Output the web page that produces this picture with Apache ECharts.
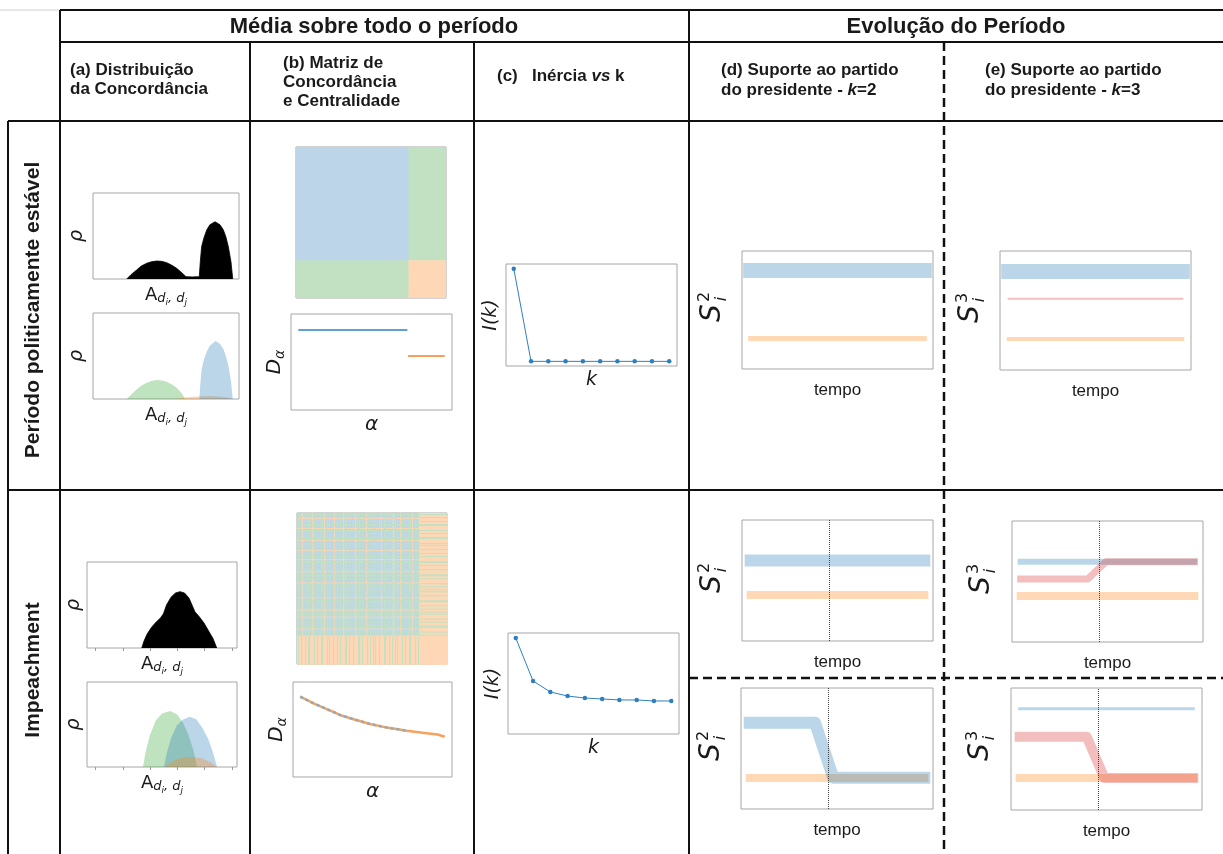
<!DOCTYPE html>
<html>
<head>
<meta charset="utf-8">
<title>Média sobre todo o período / Evolução do Período</title>
<script src="https://cdn.jsdelivr.net/npm/echarts@6/dist/echarts.min.js"></script>
<style>
  html, body { margin: 0; padding: 0; background: #fff; }
  #chart { width: 1223px; height: 854px; }
</style>
</head>
<body>
<div id="chart"></div>
<script>
// ---------- (a) distribuição da concordância (x em fração do eixo, rho relativo) ----------
const aStableX = [0.231, 0.26, 0.299, 0.33, 0.368, 0.40, 0.436, 0.47, 0.505, 0.54, 0.573, 0.61, 0.637, 0.68, 0.728, 0.735, 0.744, 0.76, 0.779, 0.80, 0.836, 0.87, 0.893, 0.91, 0.927, 0.945, 0.957]
const aStableTotal = [0, 0.05, 0.105, 0.15, 0.183, 0.20, 0.209, 0.205, 0.19, 0.16, 0.124, 0.07, 0.027, 0.024, 0.027, 0.2, 0.376, 0.48, 0.57, 0.63, 0.666, 0.63, 0.57, 0.49, 0.376, 0.2, 0]
const aStableGreenX = [0.231, 0.26, 0.299, 0.33, 0.368, 0.40, 0.436, 0.47, 0.505, 0.54, 0.573, 0.61, 0.63]
const aStableGreen = [0, 0.05, 0.11, 0.155, 0.19, 0.21, 0.22, 0.215, 0.2, 0.17, 0.13, 0.06, 0]
const aStableBlueX = [0.728, 0.735, 0.744, 0.76, 0.779, 0.80, 0.84, 0.87, 0.893, 0.91, 0.927, 0.945, 0.957]
const aStableBlue = [0, 0.17, 0.35, 0.46, 0.55, 0.62, 0.674, 0.64, 0.58, 0.5, 0.39, 0.21, 0]
const aStableOrangeX = [0.573, 0.62, 0.68, 0.74, 0.80, 0.86, 0.91, 0.95]
const aStableOrange = [0, 0.015, 0.025, 0.032, 0.035, 0.03, 0.02, 0]

const aImpX = [0.365, 0.38, 0.40, 0.43, 0.46, 0.49, 0.51, 0.53, 0.56, 0.59, 0.62, 0.65, 0.68, 0.70, 0.72, 0.75, 0.78, 0.81, 0.84, 0.865]
const aImpTotal = [0, 0.08, 0.16, 0.24, 0.3, 0.35, 0.4, 0.5, 0.59, 0.64, 0.655, 0.64, 0.58, 0.5, 0.42, 0.36, 0.29, 0.2, 0.11, 0]
const aImpGreenX = [0.373, 0.39, 0.42, 0.46, 0.50, 0.553, 0.60, 0.64, 0.68, 0.71, 0.733]
const aImpGreen = [0, 0.17, 0.38, 0.55, 0.63, 0.66, 0.62, 0.52, 0.36, 0.19, 0]
const aImpBlueX = [0.513, 0.53, 0.56, 0.60, 0.64, 0.687, 0.73, 0.77, 0.81, 0.84, 0.867]
const aImpBlue = [0, 0.15, 0.34, 0.49, 0.56, 0.59, 0.56, 0.46, 0.32, 0.17, 0]
const aImpOrangeX = [0.52, 0.56, 0.62, 0.69, 0.76, 0.82, 0.867]
const aImpOrange = [0, 0.06, 0.105, 0.118, 0.105, 0.06, 0]
const aImpTicks = [0.053, 0.24, 0.42, 0.6, 0.78, 0.967]

// ---------- (b) matriz de concordância: 0 azul, 1 laranja, 2 verde ----------
const concStable = [
  [0, 0, 0, 2],
  [0, 0, 0, 2],
  [0, 0, 0, 2],
  [2, 2, 2, 1]
]
// tipo de cada parlamentar no impeachment (B azul, G verde, O laranja)
const nodeTypesImp =
  'BGBBGOBBGBBGGBBOBGBB' + 'GBBBGGBOBBGBGBBBGOBB' + 'GBBGBBOBGGBBGBBBGBOB' +
  'BGGBBGBBBOGBBGBBGBGB' + 'BBGBOBBGGBBBGBBGOBGB' + 'GBBOBGBBGBBBGGBOBBGB' + 'BGO' +
  'OOOOOOOOOO' + 'OOOOOOOOOO' + 'OOOOOOO'

// centralidade D_alpha
const dAlphaStableBlue = [[0, 0.833], [0.745, 0.833]]
const dAlphaStableOrange = [[0.75, 0.5625], [1, 0.5625]]
const dAlphaImpX = [0, 0.1, 0.2, 0.275, 0.38, 0.483, 0.6, 0.737, 0.875, 0.95, 1.0]
const dAlphaImpY = [0.845, 0.77, 0.705, 0.653, 0.603, 0.558, 0.52, 0.487, 0.46, 0.447, 0.424]

// ---------- (c) inércia vs k ----------
const kValues = [1, 2, 3, 4, 5, 6, 7, 8, 9, 10]
const inertiaStable = [1, 0, 0, 0, 0, 0, 0, 0, 0, 0]
const inertiaImp = [0.95, 0.525, 0.416, 0.376, 0.356, 0.347, 0.337, 0.337, 0.327, 0.327]

// ---------- (d)/(e) suporte ao partido do presidente ----------
const eventTime = 0.45
const s2StableBlue = [[0, 0.835], [1, 0.835]]
const s2StableOrange = [[0, 0.258], [1, 0.258]]
const s3StableBlue = [[0, 0.828], [1, 0.828]]
const s3StableRed = [[0, 0.599], [1, 0.599]]
const s3StableOrange = [[0, 0.261], [1, 0.261]]
const s2ImpABlue = [[0, 0.666], [1, 0.666]]
const s2ImpAOrange = [[0, 0.381], [1, 0.381]]
const s3ImpABlue = [[0, 0.664], [1, 0.664]]
const s3ImpARed = [[0, 0.521], [0.386, 0.521], [0.492, 0.664], [1, 0.664]]
const s3ImpAOrange = [[0, 0.38], [1, 0.38]]
const s2ImpBBlue = [[0, 0.713], [0.374, 0.713], [0.478, 0.259], [1, 0.259]]
const s2ImpBOrange = [[0, 0.257], [1, 0.257]]
const s3ImpBBlue = [[0, 0.829], [1, 0.829]]
const s3ImpBRed = [[0, 0.6], [0.386, 0.6], [0.488, 0.263], [1, 0.263]]
const s3ImpBOrange = [[0, 0.263], [1, 0.263]]

// ---------- estilo ----------
const MATH_FONT = 'DejaVu Sans'
const TEXT_FONT = 'Liberation Sans'
const TXT = '#1a1a1a'
const BLUE_A = 'rgba(31,119,180,0.3)'
const ORANGE_A = 'rgba(255,127,14,0.3)'
const GREEN_A = 'rgba(44,160,44,0.3)'
const RED_A = 'rgba(214,39,40,0.3)'
const LINE_BLUE = '#2f7fbf'
const HEAT_COLORS = ['#bcd5e8', '#fed8b6', '#c2e1c2']

const chart = echarts.init(document.getElementById('chart'))

const baseAxis = {
  type: 'value',
  axisLine: { show: false },
  axisTick: { show: false },
  axisLabel: { show: false },
  splitLine: { show: false }
}
const grids = []
const xAxes = []
const yAxes = []
const series = []

function panel(rect, xOpt, yOpt) {
  const gi = grids.length
  grids.push(Object.assign({ show: true, borderColor: '#a6a6a6', borderWidth: 1 }, rect))
  xAxes.push(Object.assign({ gridIndex: gi }, baseAxis, xOpt))
  yAxes.push(Object.assign({ gridIndex: gi }, baseAxis, yOpt))
  return gi
}

function mathStyle(size, italic, extra) {
  return Object.assign({ fontFamily: MATH_FONT, fontSize: size, fontStyle: italic ? 'italic' : 'normal', color: TXT }, extra || {})
}
function pairs(xs, ys) {
  return xs.map((x, i) => [x, ys[i]])
}
function area(gi, data, color) {
  return {
    type: 'line', xAxisIndex: gi, yAxisIndex: gi, data, symbol: 'none', silent: true,
    lineStyle: { width: 0 }, areaStyle: { color, opacity: 1 }
  }
}
function band(gi, data, color, width) {
  return {
    type: 'line', xAxisIndex: gi, yAxisIndex: gi, data, symbol: 'none', silent: true,
    lineStyle: { color, width, cap: 'square', join: 'round' }
  }
}
function eventLine() {
  return {
    silent: true, symbol: ['none', 'none'], label: { show: false },
    lineStyle: { type: 'dotted', color: '#444', width: 1 },
    data: [{ xAxis: eventTime }]
  }
}
// matriz desenhada célula a célula, com leve sobreposição para não deixar frestas
function heatSeries(gi, data) {
  return {
    type: 'custom', xAxisIndex: gi, yAxisIndex: gi, data, silent: true, clip: true,
    renderItem: (params, api) => {
      const c = api.coord([api.value(0), api.value(1)])
      const s = api.size([1, 1])
      return {
        type: 'rect',
        shape: { x: c[0] - s[0] / 2, y: c[1] - s[1] / 2, width: s[0] + 0.8, height: s[1] + 0.8 },
        style: { fill: HEAT_COLORS[api.value(2)] }
      }
    }
  }
}

// nomes dos eixos
function rhoName(gap) {
  return { name: 'ρ', nameLocation: 'middle', nameGap: gap, nameTextStyle: mathStyle(19, true) }
}
const adjName = {
  name: '{a|A}{s|d}{t|i}{s|, d}{t|j}', nameLocation: 'middle', nameGap: 4,
  nameTextStyle: {
    rich: {
      a: mathStyle(18, false),
      s: mathStyle(13, true, { padding: [8, 0, 0, 0] }),
      t: mathStyle(9, true, { padding: [15, 0, 0, 0] })
    }
  }
}
const dAlphaName = {
  name: '{d|D}{s|α}', nameLocation: 'middle', nameGap: 4,
  nameTextStyle: { rich: { d: mathStyle(20, true), s: mathStyle(14, true, { padding: [10, 0, 0, 0] }) } }
}
const alphaName = { name: 'α', nameLocation: 'middle', nameGap: 5, nameTextStyle: mathStyle(20, true) }
const ikName = { name: 'I(k)', nameLocation: 'middle', nameGap: 5, nameTextStyle: mathStyle(19, true) }
const kName = { name: 'k', nameLocation: 'middle', nameGap: 5, nameTextStyle: mathStyle(19, true) }
const tempoName = {
  name: 'tempo', nameLocation: 'middle', nameGap: 13,
  nameTextStyle: { fontFamily: TEXT_FONT, fontSize: 17, color: TXT }
}
const unit = { min: 0, max: 1 }
const padded = { min: -0.05, max: 1.05 }

function catAxis(n, extra) {
  return Object.assign({ type: 'category', data: Array.from({ length: n }, (_, i) => i) }, extra || {})
}

// ---------- painéis: período estável ----------
const gA1 = panel({ left: 93, top: 193, width: 146, height: 86 }, Object.assign({}, unit, adjName), Object.assign({}, unit, rhoName(6)))
series.push(Object.assign(area(gA1, pairs(aStableX, aStableTotal), '#000'), { lineStyle: { width: 0.8, color: '#000' } }))

const gA2 = panel({ left: 93, top: 313, width: 146, height: 86 }, Object.assign({}, unit, adjName), Object.assign({}, unit, rhoName(6)))
series.push(area(gA2, pairs(aStableGreenX, aStableGreen), GREEN_A))
series.push(area(gA2, pairs(aStableOrangeX, aStableOrange), ORANGE_A))
series.push(area(gA2, pairs(aStableBlueX, aStableBlue), BLUE_A))

const gB1 = panel({ left: 296, top: 147, width: 150, height: 151 }, catAxis(concStable.length), catAxis(concStable.length, { inverse: true }))
const heatStable = []
concStable.forEach((row, i) => row.forEach((v, j) => heatStable.push([j, i, v])))
series.push(heatSeries(gB1, heatStable))

const gB2 = panel({ left: 291, top: 314, width: 161, height: 96 }, Object.assign({}, padded, alphaName), Object.assign({}, unit, dAlphaName))
series.push({ type: 'line', xAxisIndex: gB2, yAxisIndex: gB2, data: dAlphaStableBlue, symbol: 'none', silent: true, lineStyle: { color: '#62a0d3', width: 2 } })
series.push({ type: 'line', xAxisIndex: gB2, yAxisIndex: gB2, data: dAlphaStableOrange, symbol: 'none', silent: true, lineStyle: { color: '#f8a05a', width: 2 } })

const gC1 = panel({ left: 506, top: 264, width: 171, height: 102 }, Object.assign({ min: 0.55, max: 10.45 }, kName), Object.assign({}, padded, ikName))
series.push({
  type: 'line', xAxisIndex: gC1, yAxisIndex: gC1, data: pairs(kValues, inertiaStable), silent: true,
  symbol: 'circle', symbolSize: 4.5, itemStyle: { color: LINE_BLUE }, lineStyle: { color: LINE_BLUE, width: 1 }
})

const gD1 = panel({ left: 742, top: 251, width: 191, height: 118 }, Object.assign({}, padded, tempoName), unit)
series.push(band(gD1, s2StableBlue, BLUE_A, 15))
series.push(band(gD1, s2StableOrange, ORANGE_A, 5))

const gE1 = panel({ left: 1000, top: 251, width: 191, height: 119 }, Object.assign({}, padded, tempoName), unit)
series.push(band(gE1, s3StableBlue, BLUE_A, 15))
series.push(band(gE1, s3StableRed, RED_A, 2))
series.push(band(gE1, s3StableOrange, ORANGE_A, 4))

// ---------- painéis: impeachment ----------
const impTicks = { axisTick: { show: true, customValues: aImpTicks, length: 3, lineStyle: { color: '#999' } } }
const gA3 = panel({ left: 87, top: 562, width: 150, height: 86 }, Object.assign({}, unit, adjName, impTicks), Object.assign({}, unit, rhoName(3)))
series.push(Object.assign(area(gA3, pairs(aImpX, aImpTotal), '#000'), { lineStyle: { width: 0.8, color: '#000' } }))

const gA4 = panel({ left: 87, top: 682, width: 150, height: 85 }, Object.assign({}, unit, adjName, impTicks), Object.assign({}, unit, rhoName(3)))
series.push(area(gA4, pairs(aImpGreenX, aImpGreen), GREEN_A))
series.push(area(gA4, pairs(aImpBlueX, aImpBlue), BLUE_A))
series.push(area(gA4, pairs(aImpOrangeX, aImpOrange), ORANGE_A))

const impCodes = nodeTypesImp.split('').map(t => (t === 'B' ? 0 : t === 'O' ? 1 : 2))
const heatImp = []
impCodes.forEach((ci, i) => impCodes.forEach((cj, j) => heatImp.push([j, i, Math.max(ci, cj)])))
const gB3 = panel({ left: 297, top: 513, width: 150, height: 151 }, catAxis(impCodes.length), catAxis(impCodes.length, { inverse: true }))
series.push(heatSeries(gB3, heatImp))

const gB4 = panel({ left: 293, top: 682, width: 159, height: 95 }, Object.assign({}, padded, alphaName), Object.assign({}, unit, dAlphaName))
const dAlphaImp = pairs(dAlphaImpX, dAlphaImpY)
series.push({ type: 'line', xAxisIndex: gB4, yAxisIndex: gB4, data: dAlphaImp, symbol: 'none', silent: true, lineStyle: { color: '#f7a25c', width: 2.5 } })
series.push({ type: 'line', xAxisIndex: gB4, yAxisIndex: gB4, data: dAlphaImp.slice(0, 8), symbol: 'none', silent: true, lineStyle: { color: '#8eabc2', width: 2.5, type: [3, 3] } })

const gC2 = panel({ left: 508, top: 633, width: 171, height: 101 }, Object.assign({ min: 0.55, max: 10.45 }, kName), Object.assign({}, unit, ikName))
series.push({
  type: 'line', xAxisIndex: gC2, yAxisIndex: gC2, data: pairs(kValues, inertiaImp), silent: true,
  symbol: 'circle', symbolSize: 4.5, itemStyle: { color: LINE_BLUE }, lineStyle: { color: LINE_BLUE, width: 1 }
})

const gD2 = panel({ left: 742, top: 520, width: 191, height: 121 }, Object.assign({}, padded, tempoName), unit)
series.push(band(gD2, s2ImpABlue, BLUE_A, 12))
series.push(Object.assign(band(gD2, s2ImpAOrange, ORANGE_A, 8), { markLine: eventLine() }))

const gE2 = panel({ left: 1012, top: 521, width: 191, height: 121 }, Object.assign({}, padded, tempoName), unit)
series.push(band(gE2, s3ImpABlue, BLUE_A, 6))
series.push(band(gE2, s3ImpAOrange, ORANGE_A, 8))
series.push(Object.assign(band(gE2, s3ImpARed, RED_A, 7), { markLine: eventLine() }))

const gD3 = panel({ left: 741, top: 688, width: 192, height: 121 }, Object.assign({}, padded, tempoName), unit)
series.push(band(gD3, s2ImpBOrange, ORANGE_A, 8))
series.push(Object.assign(band(gD3, s2ImpBBlue, BLUE_A, 12), { markLine: eventLine() }))

const gE3 = panel({ left: 1011, top: 688, width: 191, height: 122 }, Object.assign({}, padded, tempoName), unit)
series.push(band(gE3, s3ImpBBlue, BLUE_A, 3))
series.push(band(gE3, s3ImpBOrange, ORANGE_A, 8))
series.push(Object.assign(band(gE3, s3ImpBRed, RED_A, 10), { markLine: eventLine() }))

// ---------- tabela, títulos e rótulos S ----------
function seg(x1, y1, x2, y2, color, width, dash) {
  return {
    type: 'line', silent: true, z: 100,
    shape: { x1, y1, x2, y2 },
    style: { stroke: color, lineWidth: width, lineDash: dash || null }
  }
}
function label(text, x, y, font, align, rotation, extra) {
  return {
    type: 'text', silent: true, x, y, rotation: rotation || 0, z: 100,
    style: Object.assign({ text, font, fill: TXT, textAlign: align || 'left', textVerticalAlign: 'middle' }, extra || {})
  }
}
function sLabel(x, y, k) {
  const txt = (text, px, py, font) => ({
    type: 'text', x: px, y: py,
    style: { text, font, fill: TXT, textAlign: 'center', textVerticalAlign: 'middle' }
  })
  return {
    type: 'group', x, y, rotation: Math.PI / 2, silent: true,
    children: [
      txt('S', -3, 0, 'italic 28px "DejaVu Sans"'),
      txt(String(k), 13, -8, '16px "DejaVu Sans"'),
      txt('i', 11, 9, 'italic 16px "DejaVu Sans"')
    ]
  }
}

const HEAD = 'bold 22px "Liberation Sans"'
const SUB = 'bold 17px "Liberation Sans"'
const richSub = {
  b: { font: SUB, fill: TXT },
  i: { font: 'italic bold 17px "Liberation Sans"', fill: TXT }
}
const DASH = [9, 5]

const graphics = [
  seg(0, 10, 60, 10, '#cfcfcf', 1),
  seg(60, 10, 1223, 10, '#111', 2),
  seg(60, 42, 1223, 42, '#111', 2),
  seg(8, 121, 1223, 121, '#111', 2),
  seg(8, 490, 1223, 490, '#111', 2),
  seg(60, 10, 60, 854, '#111', 2),
  seg(8, 121, 8, 854, '#111', 2),
  seg(250, 42, 250, 854, '#111', 2),
  seg(474, 42, 474, 854, '#111', 2),
  seg(689, 10, 689, 854, '#111', 2),
  seg(944, 42, 944, 854, '#111', 2.5, DASH),
  seg(689, 678, 1223, 678, '#111', 2.5, DASH),

  label('Média sobre todo o período', 374, 27, HEAD, 'center'),
  label('Evolução do Período', 956, 27, HEAD, 'center'),
  label('(a) Distribuição\nda Concordância', 70, 80, SUB, 'left', 0, { lineHeight: 19 }),
  label('(b) Matriz de\nConcordância\ne Centralidade', 283, 82, SUB, 'left', 0, { lineHeight: 19 }),
  label('{b|(c)   Inércia }{i|vs}{b| k}', 497, 76, SUB, 'left', 0, { rich: richSub }),
  label('{b|(d) Suporte ao partido}\n{b|do presidente - }{i|k}{b|=2}', 721, 80, SUB, 'left', 0, { rich: richSub, lineHeight: 20 }),
  label('{b|(e) Suporte ao partido}\n{b|do presidente - }{i|k}{b|=3}', 985, 80, SUB, 'left', 0, { rich: richSub, lineHeight: 20 }),
  label('Período politicamente estável', 33, 310, 'bold 21px "Liberation Sans"', 'center', Math.PI / 2),
  label('Impeachment', 33, 670, 'bold 21px "Liberation Sans"', 'center', Math.PI / 2),

  sLabel(713, 310, 2),
  sLabel(971, 311, 3),
  sLabel(713, 581, 2),
  sLabel(982, 582, 3),
  sLabel(712, 749, 2),
  sLabel(981, 749, 3)
]

chart.setOption({
  backgroundColor: '#fff',
  animation: false,
  grid: grids,
  xAxis: xAxes,
  yAxis: yAxes,
  series,
  graphic: graphics
})
</script>
</body>
</html>
